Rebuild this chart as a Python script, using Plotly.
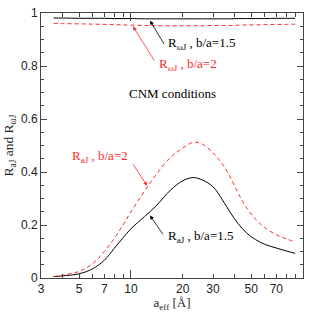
import numpy as np
import plotly.graph_objects as go

# data
a_eff = [3.55, 4, 5, 6, 7, 8, 9, 10, 12, 14, 17, 20, 23, 26, 30, 34, 38, 42, 47, 53, 60, 70, 80, 90]
r_aj_15 = [0.005, 0.008, 0.016, 0.035, 0.067, 0.112, 0.152, 0.186, 0.232, 0.272, 0.332, 0.367, 0.379, 0.370, 0.344, 0.295, 0.245, 0.205, 0.170, 0.145, 0.127, 0.113, 0.102, 0.093]
r_aj_2 = [0.006, 0.011, 0.025, 0.055, 0.10, 0.15, 0.20, 0.25, 0.328, 0.39, 0.455, 0.49, 0.512, 0.505, 0.472, 0.43, 0.377, 0.32, 0.265, 0.222, 0.19, 0.163, 0.148, 0.136]
r_wj_15 = [0.981, 0.981, 0.980, 0.980, 0.980, 0.979, 0.979, 0.979, 0.978, 0.978, 0.978, 0.978, 0.978, 0.978, 0.978, 0.978, 0.978, 0.979, 0.979, 0.979, 0.979, 0.980, 0.980, 0.980]
r_wj_2 = [0.961, 0.960, 0.959, 0.958, 0.957, 0.956, 0.955, 0.954, 0.953, 0.952, 0.952, 0.952, 0.952, 0.952, 0.953, 0.953, 0.953, 0.954, 0.955, 0.955, 0.956, 0.957, 0.957, 0.958]

x_labels = [3, 5, 7, 10, 20, 30, 50, 70]
x_ticks = [3, 4, 5, 6, 7, 8, 9, 10, 20, 30, 40, 50, 60, 70, 80, 90, 100]
x_long = [10, 100]
y_ticks = [0, 0.2, 0.4, 0.6, 0.8, 1]

RED = "#ff2a2a"
fig = go.Figure()
fig.add_trace(go.Scatter(x=a_eff, y=r_wj_15, mode="lines", line=dict(color="black", width=1, shape="spline")))
fig.add_trace(go.Scatter(x=a_eff, y=r_wj_2, mode="lines", line=dict(color=RED, width=1, dash="4px,3px", shape="spline")))
fig.add_trace(go.Scatter(x=a_eff, y=r_aj_15, mode="lines", line=dict(color="black", width=1, shape="spline")))
fig.add_trace(go.Scatter(x=a_eff, y=r_aj_2, mode="lines", line=dict(color=RED, width=1, dash="4px,3px", shape="spline")))
# invisible trace to carry the long-tick overlay axis
fig.add_trace(go.Scatter(x=[10], y=[0.5], xaxis="x2", mode="markers", marker=dict(opacity=0), hoverinfo="skip"))

serif = "Liberation Serif"
fs = 13

def txt(x, y, s, color, anchor="left"):
    fig.add_annotation(x=np.log10(x), y=y, xref="x", yref="y", text=s, showarrow=False,
                       xanchor=anchor, yanchor="middle", font=dict(family=serif, size=fs, color=color))

def arrow(x0, y0, x1, y1, color):
    fig.add_annotation(x=np.log10(x1), y=y1, ax=np.log10(x0), ay=y0, xref="x", yref="y",
                       axref="x", ayref="y", text="", showarrow=True, arrowhead=2,
                       arrowsize=1, arrowwidth=0.8, arrowcolor=color, standoff=0, startstandoff=0)

txt(10**1.203, 0.885, "R<sub>ωJ</sub> , b/a=1.5", "black")
arrow(10**1.198, 0.877, 10**1.111, 0.971, "black")
txt(10**1.150, 0.805, "R<sub>ωJ</sub> , b/a=2", RED)
arrow(10**1.141, 0.815, 10**1.012, 0.949, RED)
fig.add_annotation(x=1.239, y=0.696, xref="x", yref="y", text="CNM conditions", showarrow=False,
                   font=dict(family=serif, size=fs, color="black"))
txt(10**0.996, 0.458, "R<sub>aJ</sub> , b/a=2", RED, anchor="right")
arrow(10**1.006, 0.435, 10**1.094, 0.348, RED)
txt(10**1.203, 0.155, "R<sub>aJ</sub> , b/a=1.5", "black")
arrow(10**1.192, 0.159, 10**1.111, 0.236, "black")

axis_common = dict(showgrid=False, zeroline=False, showline=True, linecolor="#444", linewidth=1,
                   mirror="ticks", ticks="inside", tickcolor="#444",
                   tickfont=dict(family="Liberation Sans", size=12, color="#222"))

fig.update_xaxes(type="log", range=[np.log10(3), 2], tickvals=x_ticks,
                 ticktext=[str(v) if v in x_labels else "" for v in x_ticks],
                 ticklen=4,
                 title=dict(text="a<sub>eff</sub> [Å]", font=dict(family=serif, size=13, color="#222"), standoff=0),
                 **axis_common)
fig.update_layout(xaxis2=dict(type="log", range=[np.log10(3), 2], overlaying="x", tickvals=x_long,
                              showticklabels=False, ticks="inside", ticklen=8, tickcolor="#444",
                              showgrid=False, zeroline=False, showline=False, mirror="ticks"))
fig.update_yaxes(range=[0, 1], tickvals=y_ticks, ticktext=["0", "0.2", "0.4", "0.6", "0.8", "1"],
                 ticklen=6, minor=dict(dtick=0.05, ticklen=3, ticks="inside", tickcolor="#444"),
                 title=dict(text="R<sub>aJ</sub> and R<sub>ωJ</sub>", font=dict(family=serif, size=13.5, color="#222"), standoff=4),
                 **axis_common)

fig.update_layout(width=314, height=312, margin=dict(l=41, r=11, t=6, b=30),
                  paper_bgcolor="white", plot_bgcolor="white", showlegend=False)
fig.write_html("out.html", config={"displayModeBar": False},
               post_script="document.body.style.margin='0';document.body.style.padding='0';document.documentElement.style.overflow='hidden';")
